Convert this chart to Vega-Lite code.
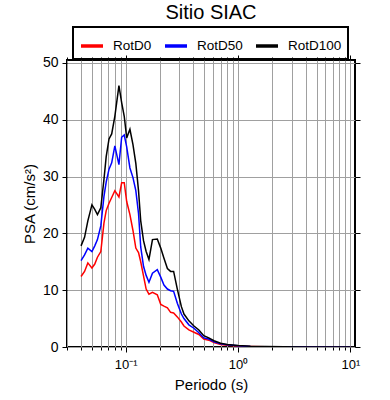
{
  "$schema": "https://vega.github.io/schema/vega-lite/v6.json",
  "width": 288,
  "height": 287,
  "autosize": {"type": "none"},
  "padding": {"left": 67, "top": 60, "right": 35, "bottom": 53},
  "title": {"text": "Sitio SIAC", "fontSize": 20, "font": "Liberation Sans", "fontWeight": "normal", "anchor": "middle", "offset": 3, "color": "black"},
  "config": {
    "view": {"stroke": "black", "strokeWidth": 2},
    "font": "Liberation Sans",
    "axis": {"labelFont": "Liberation Sans", "titleFont": "Liberation Sans", "labelColor": "black", "titleColor": "black", "tickColor": "black", "domain": false, "titleFontWeight": "normal"},
    "legend": {"strokeWidth": 2}
  },
  "data": {
    "values": [
      {"T": 0.040, "RotD0": 12.4, "RotD50": 15.2, "RotD100": 17.8},
      {"T": 0.043, "RotD0": 13.3, "RotD50": 16.2, "RotD100": 19.3},
      {"T": 0.046, "RotD0": 14.8, "RotD50": 17.4, "RotD100": 22.2},
      {"T": 0.050, "RotD0": 13.9, "RotD50": 16.8, "RotD100": 25.0},
      {"T": 0.053, "RotD0": 14.6, "RotD50": 17.8, "RotD100": 24.2},
      {"T": 0.056, "RotD0": 15.8, "RotD50": 18.9, "RotD100": 23.3},
      {"T": 0.060, "RotD0": 16.8, "RotD50": 21.3, "RotD100": 24.5},
      {"T": 0.064, "RotD0": 21.8, "RotD50": 26.5, "RotD100": 29.5},
      {"T": 0.067, "RotD0": 24.0, "RotD50": 29.0, "RotD100": 33.5},
      {"T": 0.071, "RotD0": 25.3, "RotD50": 31.3, "RotD100": 36.6},
      {"T": 0.075, "RotD0": 26.3, "RotD50": 32.4, "RotD100": 37.5},
      {"T": 0.080, "RotD0": 27.5, "RotD50": 35.4, "RotD100": 40.6},
      {"T": 0.087, "RotD0": 26.4, "RotD50": 32.1, "RotD100": 46.0},
      {"T": 0.092, "RotD0": 28.9, "RotD50": 36.9, "RotD100": 43.0},
      {"T": 0.097, "RotD0": 28.9, "RotD50": 37.3, "RotD100": 40.6},
      {"T": 0.102, "RotD0": 25.6, "RotD50": 35.2, "RotD100": 36.8},
      {"T": 0.109, "RotD0": 23.3, "RotD50": 31.5, "RotD100": 38.3},
      {"T": 0.116, "RotD0": 20.5, "RotD50": 29.8, "RotD100": 35.6},
      {"T": 0.123, "RotD0": 17.4, "RotD50": 27.5, "RotD100": 32.3},
      {"T": 0.130, "RotD0": 16.6, "RotD50": 23.5, "RotD100": 27.5},
      {"T": 0.136, "RotD0": 15.0, "RotD50": 17.6, "RotD100": 22.2},
      {"T": 0.144, "RotD0": 12.5, "RotD50": 14.2, "RotD100": 18.7},
      {"T": 0.152, "RotD0": 10.2, "RotD50": 12.6, "RotD100": 16.8},
      {"T": 0.161, "RotD0": 9.3, "RotD50": 11.4, "RotD100": 15.4},
      {"T": 0.173, "RotD0": 9.6, "RotD50": 13.0, "RotD100": 18.9},
      {"T": 0.191, "RotD0": 9.2, "RotD50": 13.6, "RotD100": 19.0},
      {"T": 0.205, "RotD0": 7.5, "RotD50": 12.3, "RotD100": 17.4},
      {"T": 0.219, "RotD0": 7.2, "RotD50": 10.9, "RotD100": 15.6},
      {"T": 0.235, "RotD0": 6.9, "RotD50": 10.2, "RotD100": 13.8},
      {"T": 0.251, "RotD0": 6.1, "RotD50": 9.9, "RotD100": 13.3},
      {"T": 0.267, "RotD0": 6.0, "RotD50": 9.8, "RotD100": 13.3},
      {"T": 0.288, "RotD0": 5.3, "RotD50": 7.7, "RotD100": 10.2},
      {"T": 0.313, "RotD0": 4.4, "RotD50": 5.8, "RotD100": 7.1},
      {"T": 0.330, "RotD0": 3.7, "RotD50": 5.0, "RotD100": 5.8},
      {"T": 0.365, "RotD0": 3.0, "RotD50": 3.9, "RotD100": 4.6},
      {"T": 0.405, "RotD0": 2.6, "RotD50": 3.3, "RotD100": 3.7},
      {"T": 0.448, "RotD0": 2.2, "RotD50": 2.5, "RotD100": 3.0},
      {"T": 0.495, "RotD0": 1.4, "RotD50": 1.6, "RotD100": 2.0},
      {"T": 0.549, "RotD0": 1.2, "RotD50": 1.4, "RotD100": 1.6},
      {"T": 0.610, "RotD0": 0.8, "RotD50": 0.9, "RotD100": 1.1},
      {"T": 0.700, "RotD0": 0.45, "RotD50": 0.55, "RotD100": 0.65},
      {"T": 0.800, "RotD0": 0.3, "RotD50": 0.38, "RotD100": 0.45},
      {"T": 1.0, "RotD0": 0.17, "RotD50": 0.2, "RotD100": 0.25},
      {"T": 1.29, "RotD0": 0.09, "RotD50": 0.11, "RotD100": 0.13},
      {"T": 1.76, "RotD0": 0.05, "RotD50": 0.06, "RotD100": 0.07},
      {"T": 2.54, "RotD0": 0.03, "RotD50": 0.035, "RotD100": 0.04},
      {"T": 4.0, "RotD0": 0.015, "RotD50": 0.02, "RotD100": 0.02},
      {"T": 6.6, "RotD0": 0.008, "RotD50": 0.01, "RotD100": 0.012},
      {"T": 10.0, "RotD0": 0.006, "RotD50": 0.007, "RotD100": 0.008}
    ]
  },
  "transform": [{"fold": ["RotD0", "RotD50", "RotD100"], "as": ["serie", "psa"]}],
  "layer": [
    {
      "mark": {"type": "line", "strokeWidth": 1.5, "clip": true},
      "encoding": {
        "x": {
          "field": "T", "type": "quantitative",
          "scale": {"type": "log", "domain": [0.03, 11], "nice": false},
          "axis": {
            "orient": "bottom",
            "values": [0.03,0.04,0.05,0.06,0.07,0.08,0.09,0.1,0.2,0.3,0.4,0.5,0.6,0.7,0.8,0.9,1,2,3,4,5,6,7,8,9,10],
            "labelExpr": "datum.value == 0.1 ? '10⁻¹' : datum.value == 1 ? '10⁰' : datum.value == 10 ? '10¹' : ''",
            "labelOverlap": false, "labelFlush": false, "labelBound": false,
            "labelFontSize": 13, "labelPadding": 6,
            "tickSize": {"condition": {"test": "datum.value == 0.1 || datum.value == 1 || datum.value == 10", "value": 5}, "value": 3},
            "grid": true, "gridColor": "#a0a0a0", "gridWidth": 1,
            "title": "Periodo (s)", "titleFontSize": 15, "titlePadding": 6
          }
        },
        "y": {
          "field": "psa", "type": "quantitative",
          "scale": {"domain": [0, 50.5], "nice": false},
          "axis": {
            "orient": "left",
            "values": [0, 10, 20, 30, 40, 50],
            "labelFontSize": 14, "labelPadding": 4, "tickSize": 5,
            "grid": true, "gridColor": "#a0a0a0", "gridWidth": 1,
            "title": "PSA (cm/s²)", "titleFontSize": 15, "titlePadding": 5
          }
        },
        "color": {
          "field": "serie", "type": "nominal",
          "scale": {"domain": ["RotD0", "RotD50", "RotD100"], "range": ["red", "blue", "black"]},
          "legend": {
            "orient": "none", "legendX": 6, "legendY": -33,
            "direction": "horizontal", "title": null,
            "strokeColor": "black", "padding": 6,
            "symbolType": "stroke", "symbolStrokeWidth": 3.5, "symbolSize": 484,
            "labelFontSize": 13.5, "labelFont": "Liberation Sans", "labelColor": "black",
            "labelOffset": 8, "columnPadding": 6
          }
        }
      }
    },
    {
      "mark": {"type": "point", "opacity": 0},
      "encoding": {
        "x": {
          "field": "T", "type": "quantitative",
          "axis": {
            "orient": "top",
            "values": [0.03,0.04,0.05,0.06,0.07,0.08,0.09,0.1,0.2,0.3,0.4,0.5,0.6,0.7,0.8,0.9,1,2,3,4,5,6,7,8,9,10],
            "labels": false, "grid": false, "title": null,
            "tickSize": {"condition": {"test": "datum.value == 0.1 || datum.value == 1 || datum.value == 10", "value": 5}, "value": 3}
          }
        },
        "y": {
          "field": "psa", "type": "quantitative",
          "axis": {"orient": "right", "values": [0, 10, 20, 30, 40, 50], "labels": false, "grid": false, "title": null, "tickSize": 5}
        }
      }
    }
  ],
  "resolve": {"axis": {"x": "independent", "y": "independent"}}
}
